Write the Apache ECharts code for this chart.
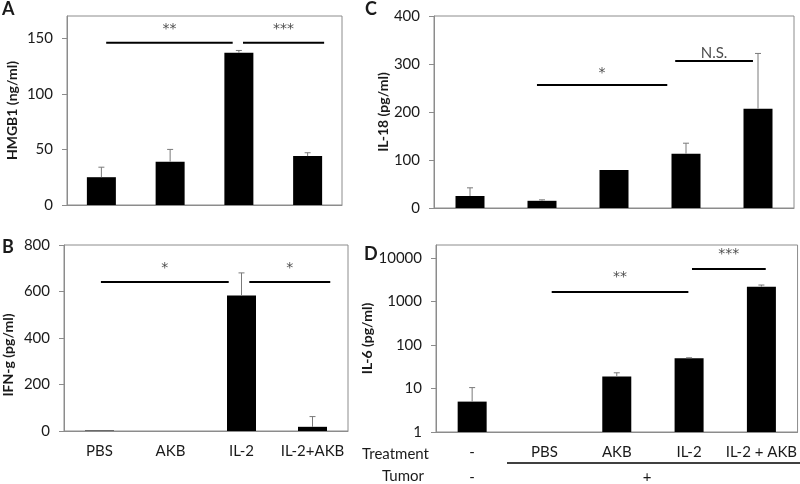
<!DOCTYPE html>
<html><head><meta charset="utf-8">
<script src="https://cdn.jsdelivr.net/npm/echarts@6/dist/echarts.min.js"></script>
<style>html,body{margin:0;padding:0;background:#fff}#c{width:800px;height:484px}</style>
</head><body><div id="c"></div>
<script>
// ---- data ----
const catsAB = ['PBS', 'AKB', 'IL-2', 'IL-2+AKB'];
const hmgb1 = [25, 39, 137, 44];
const hmgb1Err = [34, 50, 139, 47];
const ifng = [2, 0, 583, 18];
const ifngErr = [null, null, 680, 62];
const catsCD = ['-', 'PBS', 'AKB', 'IL-2', 'IL-2 + AKB'];
const il18 = [25, 15, 79, 113, 207];
const il18Err = [42, 17, null, 135, 322];
const il6 = [5, null, 19, 50, 2200];
const il6Err = [10.5, null, 23, 51, 2400];
const ticksA = [0, 50, 100, 150];
const ticksB = [0, 200, 400, 600, 800];
const ticksC = [0, 100, 200, 300, 400];
const ticksD = [1, 10, 100, 1000, 10000];
// significance brackets: from/to in category units, y value, label, label y value
const sigA = [{from: 0.57, to: 2.41, y: 146, text: '**', ty: 158}, {from: 2.56, to: 3.74, y: 146, text: '***', ty: 158}];
const sigB = [{from: 0.52, to: 2.32, y: 641, text: '*', ty: 700}, {from: 2.61, to: 3.75, y: 641, text: '*', ty: 700}];
const sigC = [{from: 1.43, to: 3.24, y: 256, text: '*', ty: 280}, {from: 3.35, to: 4.43, y: 306, text: 'N.S.', ty: 322}];
const sigD = [{from: 1.60, to: 3.49, y: 1650, text: '**', ty: 3700}, {from: 3.54, to: 4.56, y: 5600, text: '***', ty: 12400}];

const FONT = 'Lato';
const AX = '#8c8c8c';
const TXT = '#1a1a1a';
const FS = 15;

const chart = echarts.init(document.getElementById('c'), null, {renderer: 'canvas'});

function catAxis(gi, cats, showLabel) {
  return {type: 'category', gridIndex: gi, data: cats,
    axisLine: {lineStyle: {color: AX}}, axisTick: {length: 5, lineStyle: {color: AX}},
    axisLabel: {show: showLabel, color: TXT, fontFamily: FONT, fontSize: FS, margin: 13, interval: 0}};
}
function annAxis(gi, n) {
  return {type: 'value', gridIndex: gi, min: 0, max: n, show: false};
}
function nameStyle(pad) {
  return {fontFamily: FONT, fontSize: 14, fontWeight: 'bold', color: TXT, padding: pad || 0};
}
function valAxis(gi, ticks, max, name, gap, pad) {
  return {type: 'value', gridIndex: gi, min: ticks[0], max: max,
    interval: ticks[1] - ticks[0],
    name: name, nameLocation: 'middle', nameGap: gap, nameTextStyle: nameStyle(pad),
    splitLine: {show: false},
    axisLine: {show: true, lineStyle: {color: AX}}, axisTick: {show: true, length: 5, lineStyle: {color: AX}},
    axisLabel: {color: TXT, fontFamily: FONT, fontSize: FS, margin: 14, showMaxLabel: max === ticks[ticks.length - 1]}};
}
function barSeries(ai, data) {
  return {type: 'bar', xAxisIndex: ai, yAxisIndex: ai, data: data, barWidth: 29,
    itemStyle: {color: '#000'}, silent: true, z: 2};
}
function errSeries(ai, vals, tops) {
  const d = [];
  vals.forEach((v, i) => { if (tops[i] != null) d.push([i, v, tops[i]]); });
  return {type: 'custom', xAxisIndex: ai, yAxisIndex: ai, data: d, z: 3, silent: true,
    renderItem: function (params, api) {
      const x = api.value(0);
      const lo = api.coord([x, api.value(1)]);
      const hi = api.coord([x, api.value(2)]);
      const st = {stroke: '#7a7a7a', lineWidth: 1};
      return {type: 'group', children: [
        {type: 'line', shape: {x1: lo[0], y1: lo[1], x2: hi[0], y2: hi[1]}, style: st},
        {type: 'line', shape: {x1: hi[0] - 3, y1: hi[1], x2: hi[0] + 3, y2: hi[1]}, style: st}
      ]};
    }};
}
function sigSeries(xi, yi, sig) {
  const out = [];
  sig.forEach(s => {
    const star = s.text.indexOf('*') >= 0;
    out.push({type: 'line', xAxisIndex: xi, yAxisIndex: yi, data: [[s.from, s.y], [s.to, s.y]],
      symbol: 'none', lineStyle: {color: '#000', width: 2}, silent: true, z: 4});
    out.push({type: 'scatter', xAxisIndex: xi, yAxisIndex: yi, data: [[(s.from + s.to) / 2, s.ty]],
      symbolSize: 1, itemStyle: {color: 'rgba(0,0,0,0)'}, silent: true, z: 4,
      label: {show: true, position: 'inside', formatter: s.text, color: TXT,
        fontFamily: star ? 'DejaVu Sans' : FONT, fontSize: star ? 14 : FS}});
  });
  return out;
}

const gridStyle = {show: true, borderColor: AX, borderWidth: 1, backgroundColor: '#fff'};
const option = {
  backgroundColor: '#fff',
  animation: false,
  grid: [
    Object.assign({left: 67, top: 16, width: 275, height: 189}, gridStyle),
    Object.assign({left: 64, top: 245, width: 284, height: 186}, gridStyle),
    Object.assign({left: 434, top: 16, width: 360, height: 192}, gridStyle),
    Object.assign({left: 436, top: 245, width: 362, height: 187}, gridStyle)
  ],
  xAxis: [
    catAxis(0, catsAB, false), catAxis(1, catsAB, true), catAxis(2, catsCD, false), catAxis(3, catsCD, true),
    annAxis(0, 4), annAxis(1, 4), annAxis(2, 5), annAxis(3, 5)
  ],
  yAxis: [
    valAxis(0, ticksA, 170, 'HMGB1 (ng/ml)', 48),
    valAxis(1, ticksB, 800, 'IFN-g (pg/ml)', 49, [0, 34, 0, 0]),
    valAxis(2, ticksC, 400, 'IL-18 (pg/ml)', 42),
    {type: 'log', logBase: 10, gridIndex: 3, min: ticksD[0], max: 20000,
      name: 'IL-6 (pg/ml)', nameLocation: 'middle', nameGap: 54, nameTextStyle: nameStyle(),
      splitLine: {show: false},
      axisLine: {show: true, lineStyle: {color: AX}}, axisTick: {show: true, length: 5, lineStyle: {color: AX}},
      axisLabel: {color: TXT, fontFamily: FONT, fontSize: FS, margin: 14, showMaxLabel: false,
        formatter: v => String(Math.round(v))}}
  ],
  series: [
    barSeries(0, hmgb1), errSeries(0, hmgb1, hmgb1Err),
    barSeries(1, ifng), errSeries(1, ifng, ifngErr),
    barSeries(2, il18), errSeries(2, il18, il18Err),
    barSeries(3, il6), errSeries(3, il6, il6Err)
  ].concat(sigSeries(4, 0, sigA), sigSeries(5, 1, sigB), sigSeries(6, 2, sigC), sigSeries(7, 3, sigD)),
  graphic: [
    {type: 'text', left: 2, top: 0, style: {text: 'A', font: 'bold 18px Lato', fill: TXT}},
    {type: 'text', left: 2, top: 238, style: {text: 'B', font: 'bold 18px Lato', fill: TXT}},
    {type: 'text', left: 365, top: 0, style: {text: 'C', font: 'bold 18px Lato', fill: TXT}},
    {type: 'text', left: 364, top: 245, style: {text: 'D', font: 'bold 18px Lato', fill: TXT}},
    {type: 'text', x: 429, y: 454, style: {text: 'Treatment', font: '15px Lato', fill: TXT, textAlign: 'right', textVerticalAlign: 'middle'}},
    {type: 'text', x: 424, y: 476, style: {text: 'Tumor', font: '15px Lato', fill: TXT, textAlign: 'right', textVerticalAlign: 'middle'}},
    {type: 'text', x: 472, y: 477, style: {text: '-', font: '15px Lato', fill: TXT, textAlign: 'center', textVerticalAlign: 'middle'}},
    {type: 'text', x: 647, y: 477, style: {text: '+', font: '15px Lato', fill: TXT, textAlign: 'center', textVerticalAlign: 'middle'}},
    {type: 'line', shape: {x1: 507, y1: 463, x2: 800, y2: 463}, style: {stroke: '#000', lineWidth: 1.5}}
  ]
};
chart.setOption(option);
</script>
</body></html>
